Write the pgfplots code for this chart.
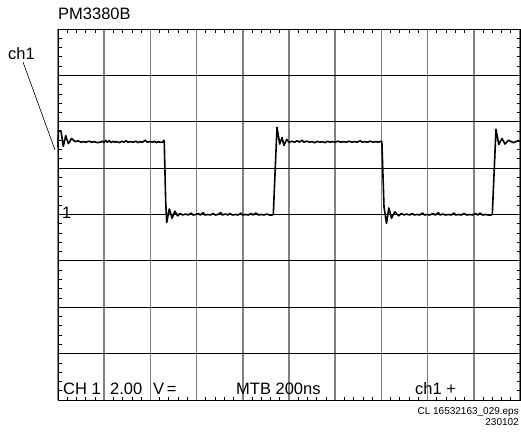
\documentclass[border=0pt]{standalone}
\usepackage{pgfplots}
\pgfplotsset{compat=1.18}
\usepackage{fontspec}
\setmainfont{Liberation Sans}
\definecolor{gridgray}{RGB}{128,128,128}
\begin{document}
\begin{tikzpicture}
\useasboundingbox (-58pt,-32pt) rectangle (463pt,400pt);
\begin{axis}[
  at={(0pt,0pt)}, anchor=south west,
  scale only axis, width=462pt, height=371pt,
  xmin=0, xmax=10, ymin=0, ymax=8,
  xtick={0,...,10}, ytick={0,...,8},
  xticklabels={}, yticklabels={},
  minor x tick num=4, minor y tick num=4,
  major tick length=0pt, minor tick length=3.5pt,
  tick align=inside, xtick pos=both, ytick pos=both,
  minor tick style={black, line width=0.8pt},
  axis line style={black, line width=1pt},
  xmajorgrids, ymajorgrids,
  major x grid style={draw=gridgray, line width=1.5pt},
  major y grid style={draw=black, line width=1pt},
  clip=false,
]
\addplot[black, line width=1.6pt, mark=none, line join=round] coordinates {
(0,5.45)(0.01,5.80)(0.065,5.80)(0.115,5.47)(0.167,5.70)(0.223,5.53)(0.297,5.64)(0.37,5.57)
(0.43,5.59)(0.49,5.56)(0.55,5.57)(0.61,5.56)(0.67,5.58)(0.73,5.56)(0.79,5.57)(0.85,5.55)(0.91,5.56)(0.97,5.58)(1.00,5.55)(1.03,5.60)(1.07,5.56)(1.11,5.59)(1.15,5.55)(1.19,5.58)(1.23,5.56)(1.27,5.57)(1.33,5.55)(1.39,5.58)(1.43,5.56)(1.47,5.59)(1.51,5.56)(1.57,5.57)(1.63,5.56)(1.69,5.58)(1.73,5.55)(1.77,5.57)(1.83,5.56)(1.89,5.60)(1.93,5.56)(1.99,5.57)(2.05,5.56)(2.09,5.58)(2.13,5.55)(2.17,5.57)(2.21,5.56)(2.27,5.56)(2.29,5.60)
(2.30,5.57)(2.33,4.3)(2.353,3.83)(2.41,4.12)(2.47,3.92)(2.53,4.07)(2.59,3.97)(2.64,4.02)
(2.70,3.99)(2.76,4.01)(2.82,3.99)(2.88,4.03)(2.92,3.99)(2.98,4.00)(3.04,4.02)(3.08,3.99)(3.14,4.04)(3.18,3.99)(3.24,4.00)(3.30,3.99)(3.36,4.02)(3.40,3.99)(3.46,4.00)(3.52,4.04)(3.56,3.99)(3.62,4.01)(3.68,3.99)(3.72,4.02)(3.78,3.99)(3.84,4.00)(3.90,3.99)(3.96,4.03)(4.00,3.99)(4.06,4.00)(4.12,3.99)(4.18,4.02)(4.22,3.99)(4.28,4.03)(4.34,3.99)(4.40,4.00)(4.46,3.99)(4.52,4.01)(4.58,3.99)(4.63,3.99)(4.66,4.00)
(4.74,5.88)(4.80,5.52)(4.85,5.66)(4.89,5.49)(4.95,5.62)(5.006,5.55)
(5.06,5.58)(5.12,5.56)(5.18,5.59)(5.22,5.56)(5.28,5.60)(5.32,5.56)(5.38,5.58)(5.44,5.56)(5.50,5.57)(5.56,5.55)(5.62,5.58)(5.66,5.56)(5.72,5.57)(5.78,5.55)(5.84,5.58)(5.88,5.56)(5.94,5.57)(6.00,5.56)(6.06,5.58)(6.12,5.56)(6.18,5.57)(6.24,5.56)(6.30,5.58)(6.36,5.56)(6.42,5.57)(6.48,5.56)(6.54,5.59)(6.58,5.56)(6.64,5.57)(6.70,5.56)(6.76,5.58)(6.82,5.56)(6.88,5.57)(6.94,5.56)(6.99,5.58)(7.01,5.57)
(7.056,4.17)(7.11,3.81)(7.16,4.14)(7.22,3.92)(7.29,4.06)(7.37,3.97)
(7.43,4.02)(7.49,3.99)(7.55,4.01)(7.61,3.99)(7.67,4.02)(7.71,3.99)(7.77,4.00)(7.83,3.99)(7.89,4.03)(7.93,3.99)(7.99,4.00)(8.05,3.99)(8.11,4.02)(8.17,3.99)(8.23,4.04)(8.27,3.99)(8.33,4.01)(8.39,3.99)(8.45,4.00)(8.51,3.99)(8.57,4.03)(8.61,3.99)(8.67,4.00)(8.73,3.99)(8.79,4.02)(8.85,3.99)(8.91,4.00)(8.97,3.99)(9.03,4.02)(9.09,3.99)(9.13,4.03)(9.19,3.99)(9.25,4.00)(9.31,3.99)(9.37,3.99)(9.40,4.00)
(9.48,5.84)(9.54,5.51)(9.61,5.64)(9.675,5.52)(9.75,5.60)(9.855,5.55)(9.96,5.59)(10,5.57)
};
\end{axis}
\begin{scope}[every node/.style={inner sep=0pt, font=\fontsize{16.5}{19}\selectfont}]
\node[anchor=base west] at (0pt,381pt) {PM3380B};
\node[anchor=base west] at (-50pt,341pt) {ch1};
\draw[black, line width=0.6pt] (-35pt,338pt) -- (-3pt,250pt);
\node[anchor=base west] at (4pt,182pt) {1};
\node[anchor=base west] at (5pt,6pt) {CH 1};
\node[anchor=base west] at (52pt,6pt) {2.00};
\node[anchor=base west] at (95pt,6pt) {V\,=};
\node[anchor=base west] at (178pt,6pt) {MTB 200ns};
\node[anchor=base west] at (357pt,6pt) {ch1 +};
\node[anchor=base east, font=\fontsize{10}{12}\selectfont] at (461pt,-14pt) {CL 16532163\_029.eps};
\node[anchor=base east, font=\fontsize{10}{12}\selectfont] at (461pt,-25pt) {230102};
\end{scope}
\end{tikzpicture}
\end{document}
